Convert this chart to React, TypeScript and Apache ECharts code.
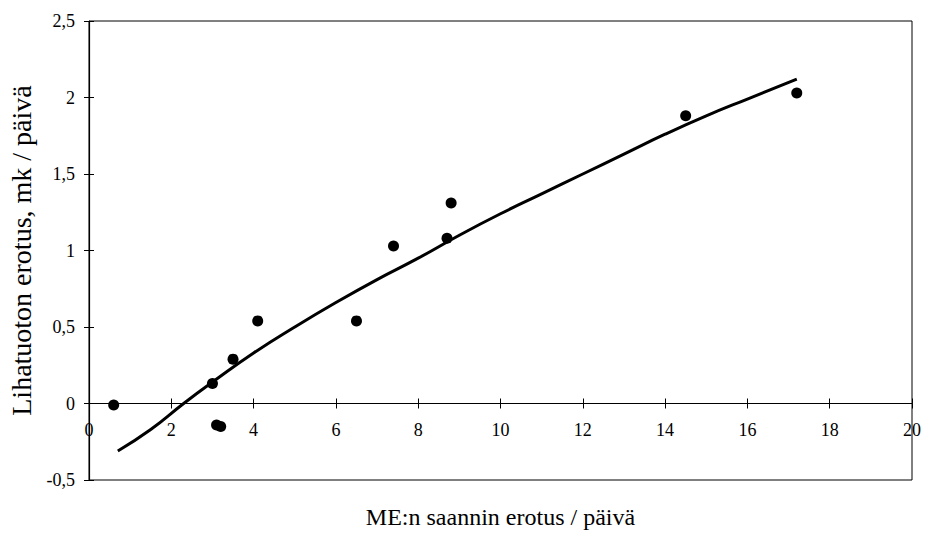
import React, { useEffect, useRef } from "react";
import * as echarts from "echarts";

const pointX = [0.6, 3.0, 3.1, 3.2, 3.5, 4.1, 6.5, 7.4, 8.7, 8.8, 14.5, 17.2];
const pointY = [-0.01, 0.13, -0.14, -0.15, 0.29, 0.54, 0.54, 1.03, 1.08, 1.31, 1.88, 2.03];

const curveX = [0.7, 1.5, 2.3, 3.0, 4.0, 5.0, 6.0, 7.0, 8.0, 9.0, 10.0, 11.0, 12.0, 13.0, 14.0, 15.0, 16.0, 17.2];
const curveY = [-0.31, -0.17, 0.0, 0.14, 0.33, 0.5, 0.66, 0.81, 0.95, 1.1, 1.24, 1.37, 1.5, 1.63, 1.76, 1.88, 1.99, 2.12];

const xTitle = "ME:n saannin erotus / päivä";
const yTitle = "Lihatuoton erotus, mk / päivä";

const FONT = "Liberation Serif";

export default function App() {
  const ref = useRef<HTMLDivElement>(null);
  useEffect(() => {
    if (!ref.current) return;
    const chart = echarts.init(ref.current, undefined, { renderer: "svg" });
    const fmt = (v: number) => String(v).replace(".", ",");
    chart.setOption({
      animation: false,
      backgroundColor: "#fff",
      textStyle: { fontFamily: FONT, color: "#000" },
      grid: {
        left: 89,
        right: 13,
        top: 21,
        bottom: 54,
        show: true,
        borderColor: "#000",
        borderWidth: 1,
        containLabel: false,
        outerBoundsMode: "none",
      },
      xAxis: [
        {
          type: "value",
          min: 0,
          max: 20,
          interval: 2,
          position: "bottom",
          axisLine: { onZero: true, lineStyle: { color: "#000", width: 1.2 } },
          axisTick: { show: true, inside: false, length: 5, lineStyle: { color: "#000" } },
          axisLabel: {
            color: "#000",
            fontFamily: FONT,
            fontSize: 18,
            margin: -59,
            formatter: fmt,
          },
          splitLine: { show: false },
          name: xTitle,
          nameLocation: "middle",
          nameGap: 25,
          nameTextStyle: { color: "#000", fontFamily: FONT, fontSize: 24 },
        },
        {
          type: "value",
          min: 0,
          max: 20,
          interval: 2,
          position: "top",
          axisLine: { show: false, onZero: true },
          axisTick: { show: true, inside: false, length: 5, lineStyle: { color: "#000" } },
          axisLabel: { show: false },
          splitLine: { show: false },
        },
      ],
      yAxis: [
        {
          type: "value",
          min: -0.5,
          max: 2.5,
          interval: 0.5,
          position: "left",
          axisLine: { show: true, onZero: false, lineStyle: { color: "#000", width: 1.2 } },
          axisTick: { show: true, inside: false, length: 5, lineStyle: { color: "#000" } },
          axisLabel: {
            color: "#000",
            fontFamily: FONT,
            fontSize: 18,
            margin: 14,
            formatter: fmt,
          },
          splitLine: { show: false },
          name: yTitle,
          nameLocation: "middle",
          nameGap: 47,
          nameTextStyle: { color: "#000", fontFamily: FONT, fontSize: 28 },
        },
        {
          type: "value",
          min: -0.5,
          max: 2.5,
          interval: 0.5,
          position: "left",
          axisLine: { show: false, onZero: false },
          axisTick: { show: true, inside: true, length: 5, lineStyle: { color: "#000" } },
          axisLabel: { show: false },
          splitLine: { show: false },
        },
      ],
      series: [
        {
          type: "line",
          xAxisIndex: 0,
          yAxisIndex: 0,
          data: curveX.map((x, i) => [x, curveY[i]]),
          smooth: true,
          showSymbol: false,
          lineStyle: { color: "#000", width: 3 },
        },
        {
          type: "scatter",
          xAxisIndex: 0,
          yAxisIndex: 0,
          data: pointX.map((x, i) => [x, pointY[i]]),
          symbol: "circle",
          symbolSize: 11,
          itemStyle: { color: "#000", opacity: 1 },
        },
      ],
    });
    return () => chart.dispose();
  }, []);
  return (
    <div
      ref={ref}
      style={{ position: "absolute", left: 0, top: 0, width: 925, height: 534 }}
    />
  );
}
